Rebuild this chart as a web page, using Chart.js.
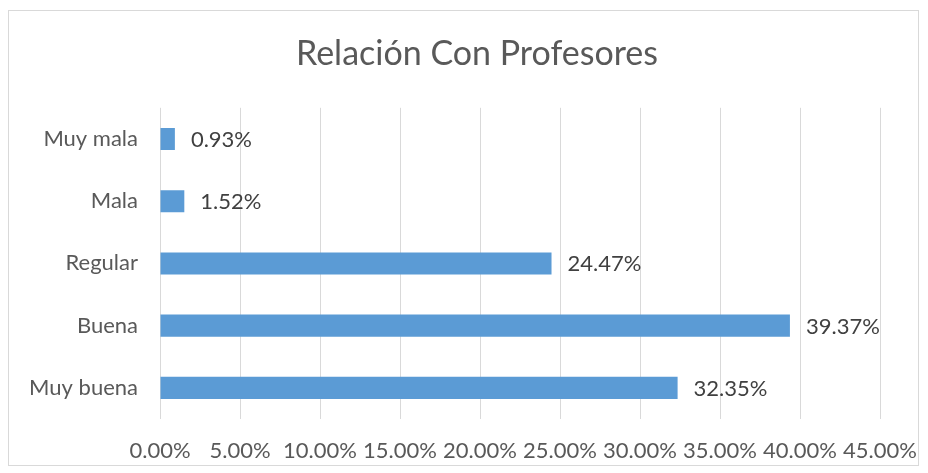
<!DOCTYPE html>
<html lang="es">
<head>
    <meta charset="UTF-8">
    <title>Relación Con Profesores</title>
    <script src="https://cdn.jsdelivr.net/npm/chart.js"></script>
    <style>
        html, body { margin: 0; padding: 0; background: #fff; }
        #wrap { width: 928px; height: 473px; }
    </style>
</head>
<body>
    <div id="wrap"><canvas id="grafico"></canvas></div>

    <script>
        // Datos
        const categorias = ['Muy mala', 'Mala', 'Regular', 'Buena', 'Muy buena'];
        const porcentajes = [0.93, 1.52, 24.47, 39.37, 32.35];
        const ejeMax = 45;
        const ejePaso = 5;

        // Marco gris alrededor del gráfico
        const marco = {
            id: 'marco',
            beforeDraw(chart) {
                const ctx = chart.ctx;
                ctx.save();
                ctx.fillStyle = '#fff';
                ctx.fillRect(0, 0, chart.width, chart.height);
                ctx.strokeStyle = '#d9d9d9';
                ctx.lineWidth = 1;
                ctx.strokeRect(8.5, 10.5, 910, 455);
                ctx.restore();
            }
        };

        // Etiquetas de valor a la derecha de cada barra
        const etiquetas = {
            id: 'etiquetas',
            afterDatasetsDraw(chart) {
                const ctx = chart.ctx;
                const meta = chart.getDatasetMeta(0);
                ctx.save();
                ctx.font = '22px Lato';
                ctx.fillStyle = '#404040';
                ctx.textAlign = 'left';
                ctx.textBaseline = 'middle';
                meta.data.forEach((barra, i) => {
                    ctx.fillText(porcentajes[i].toFixed(2) + '%', barra.x + 16, barra.y + 1);
                });
                ctx.restore();
            }
        };

        const ctx = document.getElementById('grafico').getContext('2d');
        new Chart(ctx, {
            type: 'bar',
            data: {
                labels: categorias,
                datasets: [{
                    data: porcentajes,
                    backgroundColor: '#5b9bd5',
                    borderWidth: 0,
                    barPercentage: 0.354,
                    categoryPercentage: 1
                }]
            },
            options: {
                indexAxis: 'y',
                responsive: true,
                maintainAspectRatio: false,
                animation: false,
                layout: { padding: { left: 26, right: 0, top: 34, bottom: 10 } },
                plugins: {
                    legend: { display: false },
                    tooltip: { enabled: false },
                    title: {
                        display: true,
                        text: 'Relación Con Profesores',
                        color: '#595959',
                        font: { family: 'Lato', size: 34, weight: 'normal' },
                        padding: { top: 0, bottom: 33 }
                    }
                },
                scales: {
                    x: {
                        min: 0,
                        max: ejeMax,
                        ticks: {
                            stepSize: ejePaso,
                            padding: 19,
                            color: '#595959',
                            font: { family: 'Lato', size: 22 },
                            maxRotation: 0,
                            autoSkip: false,
                            callback: v => v.toFixed(2) + '%'
                        },
                        grid: { color: '#d9d9d9', lineWidth: 1, drawTicks: false },
                        border: { display: false },
                        afterFit(scale) {
                            scale.height = 44;
                            scale.paddingLeft = 0;
                            scale.paddingRight = 48;
                        }
                    },
                    y: {
                        ticks: {
                            padding: 22,
                            color: '#595959',
                            font: { family: 'Lato', size: 22 }
                        },
                        grid: { display: false, drawTicks: false },
                        border: { display: false },
                        afterFit(scale) { scale.width = 134; }
                    }
                }
            },
            plugins: [marco, etiquetas]
        });
    </script>
</body>
</html>
